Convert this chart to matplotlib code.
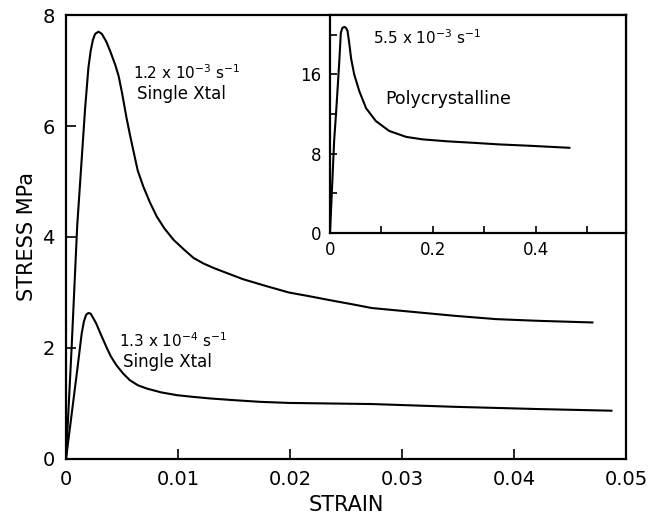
import numpy as np
import matplotlib
matplotlib.use("Agg")
import matplotlib.pyplot as plt
from matplotlib.ticker import FixedLocator

# data
# single crystal, 1.2e-3 /s
strain_fast = [0, 0.0005, 0.0010, 0.0014, 0.0017, 0.0020, 0.0022, 0.0024, 0.0026, 0.0029,
               0.0032, 0.0036, 0.0040, 0.0044, 0.0047, 0.0050, 0.0054, 0.0057, 0.0060,
               0.0064, 0.0069, 0.0075, 0.0081, 0.0088, 0.0096, 0.0105, 0.0114, 0.0123,
               0.0132, 0.0145, 0.0158, 0.0178, 0.0199, 0.0218, 0.0236, 0.0255, 0.0273,
               0.0310, 0.0347, 0.0384, 0.0421, 0.0470]
stress_fast = [0, 2.0, 4.2, 5.4, 6.3, 7.05, 7.35, 7.55, 7.66, 7.70,
               7.66, 7.52, 7.32, 7.10, 6.90, 6.60, 6.15, 5.85, 5.57,
               5.20, 4.91, 4.62, 4.37, 4.15, 3.95, 3.78, 3.62, 3.52,
               3.44, 3.34, 3.24, 3.12, 3.00, 2.93, 2.86, 2.79, 2.72,
               2.65, 2.58, 2.52, 2.49, 2.46]

# single crystal, 1.3e-4 /s
strain_slow = [0, 0.0005, 0.0010, 0.0014, 0.0016, 0.0018, 0.0020, 0.0022, 0.0024, 0.0027,
               0.0031, 0.0036, 0.0040, 0.0045, 0.0051, 0.0057, 0.0064, 0.0072, 0.0085,
               0.0099, 0.0113, 0.0129, 0.0150, 0.0173, 0.0199, 0.0273, 0.0347, 0.0421,
               0.0487]
stress_slow = [0, 0.8, 1.6, 2.26, 2.48, 2.60, 2.63, 2.62, 2.55, 2.44,
               2.25, 2.02, 1.85, 1.69, 1.54, 1.42, 1.33, 1.27, 1.20,
               1.15, 1.12, 1.09, 1.06, 1.03, 1.01, 0.99, 0.94, 0.90,
               0.87]

# polycrystalline inset, 5.5e-3 /s
strain_poly = [0, 0.008, 0.012, 0.018, 0.021, 0.024, 0.028, 0.031, 0.034, 0.037,
               0.041, 0.047, 0.057, 0.070, 0.089, 0.115, 0.148, 0.180, 0.229,
               0.280, 0.326, 0.390, 0.465]
stress_poly = [0, 9.3, 12.3, 17.3, 20.2, 20.7, 20.8, 20.7, 20.4, 19.3,
               17.6, 16.0, 14.3, 12.6, 11.3, 10.3, 9.7, 9.45, 9.25,
               9.1, 8.95, 8.8, 8.6]

main_xticks = [0, 0.01, 0.02, 0.03, 0.04, 0.05]
main_xlabels = ["0", "0.01", "0.02", "0.03", "0.04", "0.05"]
main_yticks = [0, 2, 4, 6, 8]
inset_xticks = [0, 0.2, 0.4]
inset_xlabels = ["0", "0.2", "0.4"]
inset_yticks = [0, 8, 16]

fig = plt.figure(figsize=(6.49, 5.16), dpi=100)
ax = fig.add_axes([0.1017, 0.1105, 0.8629, 0.8604])

ax.plot(strain_fast, stress_fast, color="black", lw=1.5)
ax.plot(strain_slow, stress_slow, color="black", lw=1.5)
ax.set_xlim(0, 0.05)
ax.set_ylim(0, 8)
ax.set_xticks(main_xticks)
ax.set_xticklabels(main_xlabels)
ax.set_yticks(main_yticks)
ax.tick_params(direction="in", length=7, width=1.2, labelsize=14, pad=8)
for s in ax.spines.values():
    s.set_linewidth(1.6)
ax.set_xlabel("STRAIN", fontsize=15, labelpad=4)
ax.set_ylabel("STRESS MPa", fontsize=15, labelpad=4)

ax.text(0.0060, 6.97, r"1.2 x 10$^{-3}$ s$^{-1}$", fontsize=11, va="center")
ax.text(0.0063, 6.58, "Single Xtal", fontsize=12, va="center")
ax.text(0.0047, 2.14, r"1.3 x 10$^{-4}$ s$^{-1}$", fontsize=11, va="center")
ax.text(0.0051, 1.75, "Single Xtal", fontsize=12, va="center")

# inset
ins = fig.add_axes([0.5085, 0.5484, 0.4561, 0.4225])
ins.plot(strain_poly, stress_poly, color="black", lw=1.5)
ins.set_xlim(0, 0.575)
ins.set_ylim(0, 22)
ins.set_xticks(inset_xticks)
ins.set_xticklabels(inset_xlabels)
ins.set_yticks(inset_yticks)
ins.xaxis.set_minor_locator(FixedLocator([0.1, 0.3, 0.5]))
ins.yaxis.set_minor_locator(FixedLocator([4, 12, 20]))
ins.tick_params(which="both", direction="in", length=5, width=1.2, labelsize=12, pad=6)
for s in ins.spines.values():
    s.set_linewidth(1.6)
ins.text(0.083, 19.7, r"5.5 x 10$^{-3}$ s$^{-1}$", fontsize=11, va="center")
ins.text(0.107, 13.5, "Polycrystalline", fontsize=12.5, va="center")

fig.savefig("out.png", dpi=100)
